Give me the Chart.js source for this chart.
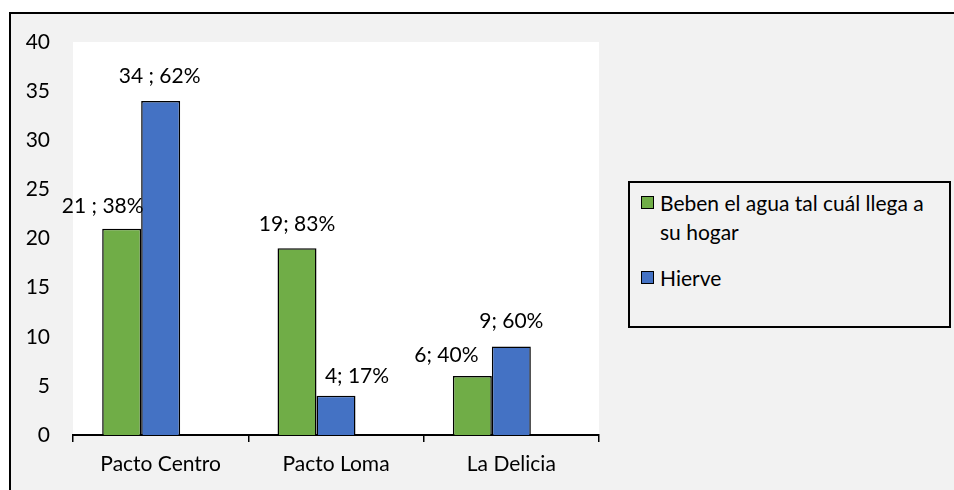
<!DOCTYPE html>
<html>
<head>
<meta charset="utf-8">
<script src="https://cdn.jsdelivr.net/npm/chart.js@4"></script>
<style>
  html, body { margin: 0; padding: 0; background: #fff; }
  #lienzo { position: relative; width: 954px; height: 490px; overflow: hidden; font-family: Lato, sans-serif; }
  #marco { position: absolute; left: 9px; top: 12px; width: 1000px; height: 600px;
           background: #f2f2f2; border-top: 2px solid #000; border-left: 2px solid #000; }
  #contenedor { position: absolute; left: 0; top: 0; width: 620px; height: 490px; }
  #leyenda { position: absolute; left: 628px; top: 181px; width: 323px; height: 147px; box-sizing: border-box;
             padding-top: 5px; border: 2px solid #000; background: #f2f2f2; }
  .item { position: relative; padding-left: 30px; font-size: 21px; line-height: 29px; color: #000; width: 272px; }
  .item + .item { margin-top: 17px; }
  .caja { position: absolute; left: 11px; top: 8px; width: 11px; height: 11px; border: 1.5px solid #000; }
</style>
</head>
<body>
<div id="lienzo">
  <div id="marco"></div>
  <div id="contenedor"><canvas id="grafica"></canvas></div>
  <div id="leyenda"></div>
</div>
<script>
const categorias = ['Pacto Centro', 'Pacto Loma', 'La Delicia'];
const bebenDirecto = [21, 19, 6];
const hierven = [34, 4, 9];
const serieVacia = [null, null, null];
const separadores = [' ; ', '; ', '; '];

const COLORES = { verde: '#70ad47', azul: '#4472c4' };
const FUENTE = { family: 'Lato', size: 21 };

// desplazamiento de cada etiqueta respecto al centro superior de su barra
const desplazamientos = [
    [[-19, -22], [0, -24], [-26, -21]],
    [[-1, -25], [21, -19], [0, -25]]
];

const textoEtiqueta = (serie, i) => {
    const total = bebenDirecto[i] + hierven[i];
    const valor = serie === 0 ? bebenDirecto[i] : hierven[i];
    return `${valor}${separadores[i]}${Math.round(valor / total * 100)}%`;
};

const fondoArea = {
    id: 'fondoArea',
    beforeDraw(chart) {
        const { ctx, chartArea: a } = chart;
        ctx.save();
        ctx.fillStyle = '#ffffff';
        ctx.fillRect(a.left, a.top, a.right - a.left, a.bottom - a.top);
        ctx.restore();
    }
};

const etiquetas = {
    id: 'etiquetas',
    afterDatasetsDraw(chart) {
        const ctx = chart.ctx;
        ctx.save();
        ctx.font = `${FUENTE.size}px ${FUENTE.family}`;
        ctx.fillStyle = '#000';
        ctx.textAlign = 'center';
        ctx.textBaseline = 'middle';
        [0, 1].forEach(s => {
            chart.getDatasetMeta(s).data.forEach((barra, i) => {
                const [dx, dy] = desplazamientos[s][i];
                ctx.fillText(textoEtiqueta(s, i), barra.x + dx, barra.y + dy);
            });
        });
        ctx.restore();
    }
};

const grafica = new Chart(document.getElementById('grafica'), {
    type: 'bar',
    data: {
        labels: categorias,
        datasets: [
            { label: 'Beben el agua tal cuál llega a su hogar', data: bebenDirecto,
              backgroundColor: COLORES.verde, borderColor: '#000', borderWidth: 1.5 },
            { label: 'Hierve', data: hierven,
              backgroundColor: COLORES.azul, borderColor: '#000', borderWidth: 1.5 },
            { label: '', data: serieVacia, backgroundColor: 'transparent', borderWidth: 0 }
        ]
    },
    options: {
        responsive: true,
        maintainAspectRatio: false,
        animation: false,
        barPercentage: 1,
        categoryPercentage: 0.667,
        layout: { padding: { top: 42, right: 21, left: 0, bottom: 0 } },
        plugins: { legend: { display: false }, tooltip: { enabled: false } },
        scales: {
            x: {
                grid: { display: true, drawOnChartArea: false, drawTicks: true, tickLength: 7,
                        offset: true, color: '#000', lineWidth: 1.5 },
                border: { display: true, color: '#000', width: 2 },
                ticks: { color: '#000', font: FUENTE, padding: 10, maxRotation: 0 },
                afterFit(escala) { escala.height = 55; }
            },
            y: {
                min: 0, max: 40,
                grid: { display: false, drawTicks: false },
                border: { display: false },
                ticks: { stepSize: 5, color: '#000', font: FUENTE, padding: 23 },
                afterFit(escala) { escala.width = 73; }
            }
        }
    },
    plugins: [fondoArea, etiquetas]
});

// leyenda en HTML para que el texto largo pueda partirse en dos líneas
const leyenda = document.getElementById('leyenda');
grafica.data.datasets.filter(d => d.label).forEach(d => {
    const item = document.createElement('div');
    item.className = 'item';
    const caja = document.createElement('span');
    caja.className = 'caja';
    caja.style.background = d.backgroundColor;
    item.appendChild(caja);
    item.appendChild(document.createTextNode(d.label));
    leyenda.appendChild(item);
});
</script>
</body>
</html>
